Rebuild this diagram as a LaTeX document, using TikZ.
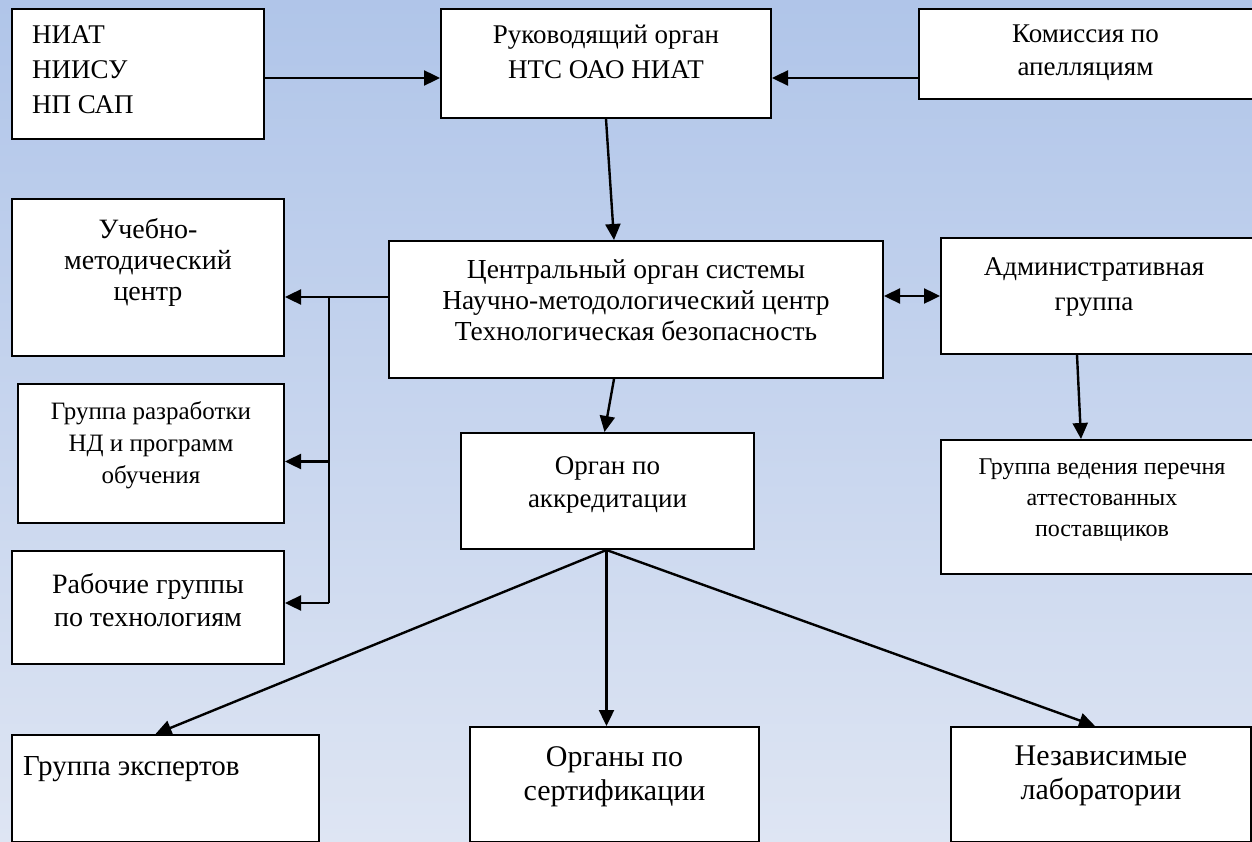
\documentclass[tikz,border=0pt]{standalone}
\usepackage{fontspec}
\setmainfont{Liberation Serif}
\usetikzlibrary{arrows.meta,positioning}

\definecolor{bgtop}{RGB}{176,197,233}
\definecolor{bgbot}{RGB}{222,229,243}

\tikzset{
	box/.style={draw, fill=white, line width=2pt, anchor=north west, inner sep=0},
	boxtext/.style={anchor=north, align=center, inner sep=0, font=\fontsize{27}{33}\selectfont},
	arr/.style={line width=2.4pt, -{Triangle[length=16pt,width=15pt]}},
	arrr/.style={line width=2.4pt, {Triangle[length=16pt,width=15pt]}-{Triangle[length=16pt,width=15pt]}},
	ln/.style={line width=2.4pt}
}

\begin{document}
\begin{tikzpicture}[x=1pt,y=-1pt]
		\useasboundingbox (0,0) rectangle (1252,842);
		\shade[top color=bgtop, bottom color=bgbot] (0,0) rectangle (1252,842);

		% top row
		\node[box, minimum width=252, minimum height=130,
			label={[boxtext, anchor=north west, align=left, font=\fontsize{27}{35}\selectfont, xshift=21, yshift=-17]north west:{НИАТ\\НИИСУ\\НП САП}}] (niat) at (11,8) {};
		\node[box, minimum width=330, minimum height=109,
			label={[boxtext, font=\fontsize{27}{35}\selectfont, yshift=-17]north:{Руководящий орган\\НТС ОАО НИАТ}}] (ruk) at (440,8) {};
		\node[box, minimum width=345, minimum height=90,
			label={[boxtext, xshift=-6, yshift=-17]north:{Комиссия по\\апелляциям}}] (kom) at (918,8) {};

		% middle
		\node[box, minimum width=494, minimum height=137,
			label={[boxtext, font=\fontsize{27.5}{31}\selectfont, yshift=-19]north:{Центральный орган системы\\Научно-методологический центр\\Технологическая безопасность}}] (cen) at (388,240) {};
		\node[box, minimum width=318, minimum height=116,
			label={[boxtext, font=\fontsize{27}{35}\selectfont, xshift=-6, yshift=-20]north:{Административная\\группа}}] (adm) at (940,237) {};
		\node[box, minimum width=293, minimum height=116,
			label={[boxtext, yshift=-24]north:{Орган по\\аккредитации}}] (org) at (460,432) {};
		\node[box, minimum width=318, minimum height=134,
			label={[boxtext, font=\fontsize{24}{31}\selectfont, xshift=2, yshift=-20]north:{Группа ведения перечня\\аттестованных\\поставщиков}}] (grv) at (940,439) {};

		% left column
		\node[box, minimum width=272, minimum height=157,
			label={[boxtext, font=\fontsize{28}{31}\selectfont, yshift=-20]north:{Учебно-\\методический\\центр}}] (uch) at (11,198) {};
		\node[box, minimum width=266, minimum height=139,
			label={[boxtext, font=\fontsize{25}{32}\selectfont, yshift=-18]north:{Группа разработки\\НД и программ\\обучения}}] (grr) at (17,383) {};
		\node[box, minimum width=272, minimum height=113,
			label={[boxtext, font=\fontsize{28}{33}\selectfont, yshift=-23]north:{Рабочие группы\\по технологиям}}] (rab) at (11,550) {};

		% bottom row
		\node[box, minimum width=307, minimum height=107,
			label={[boxtext, anchor=north west, font=\fontsize{29}{34}\selectfont, xshift=12, yshift=-22]north west:{Группа экспертов}}] (exp) at (11,734) {};
		\node[box, minimum width=289, minimum height=115,
			label={[boxtext, font=\fontsize{30}{34}\selectfont, yshift=-20]north:{Органы по\\сертификации}}] (ors) at (469,726) {};
		\node[box, minimum width=300, minimum height=115,
			label={[boxtext, font=\fontsize{30}{34}\selectfont, yshift=-20]north:{Независимые\\лаборатории}}] (nez) at (950,726) {};

		% connectors
		\draw[arr] ([yshift=-4]niat.east) -- ([yshift=-4]niat.east -| ruk.west);
		\draw[arr] ([yshift=-24]kom.west) -- ([yshift=-24]kom.west -| ruk.east);
		\draw[arr] (ruk.south) -- ([xshift=-22]cen.north);
		\draw[arr] ([xshift=-22]cen.south) -- ([xshift=-3]org.north);
		\draw[arrr] (cen.east |- adm.west) -- (adm.west);
		\draw[arr] ([xshift=-23]adm.south) -- ([xshift=-19]grv.north);

		% left bus
		\coordinate (bt) at (329,297);
		\coordinate (bb) at (329,603);
		\draw[arr] (cen.west |- bt) -- (uch.east |- bt);
		\draw[ln] (bt) -- (bb);
		\draw[arr] ([yshift=-8]bt |- grr.east) -- ([yshift=-8]grr.east);
		\draw[arr] (bb) -- (rab.east |- bb);

		% fan out from accreditation
		\coordinate (apex) at ([xshift=-1]org.south);
		\draw[arr] (apex) -- ([xshift=-10]exp.north);
		\draw[arr] (apex) -- (apex |- ors.north);
		\draw[arr] (apex) -- ([xshift=-6]nez.north);
	\end{tikzpicture}
\end{document}
